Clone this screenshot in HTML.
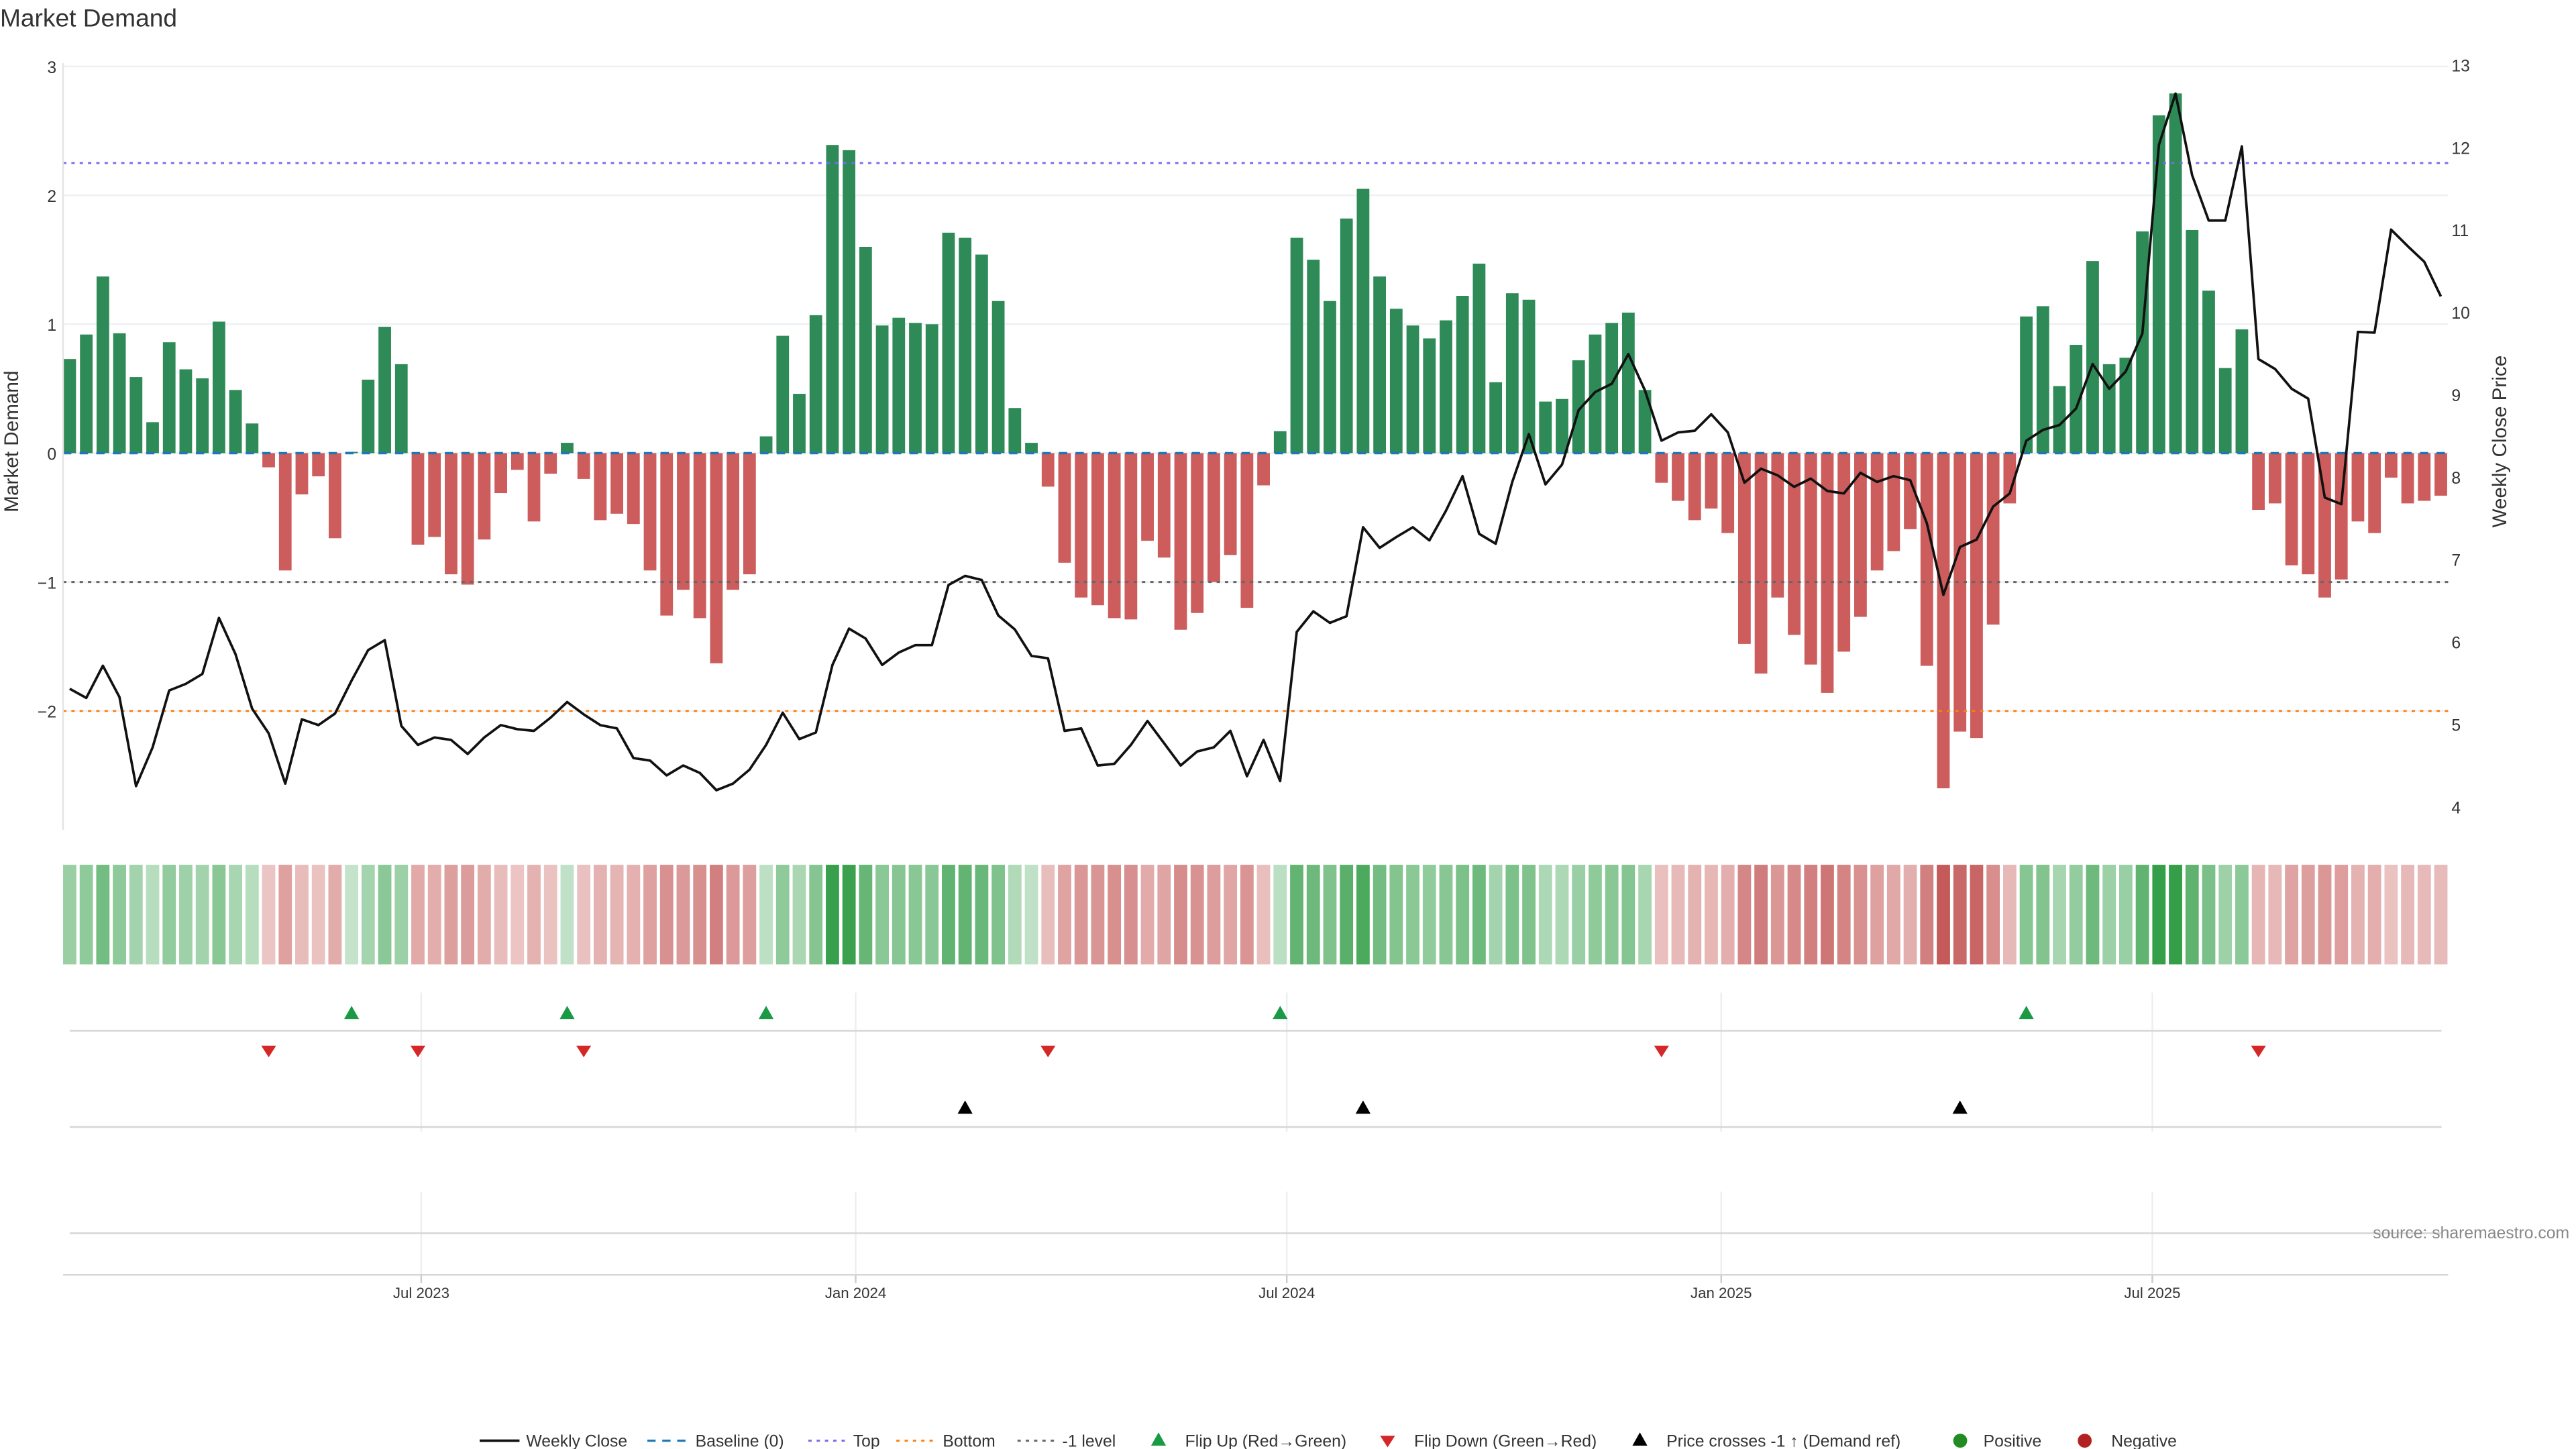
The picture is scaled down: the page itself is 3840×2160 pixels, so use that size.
<!DOCTYPE html>
<html><head><meta charset="utf-8"><style>
html,body{margin:0;padding:0;background:#fff;}
svg{display:block;font-family:"Liberation Sans","DejaVu Sans",sans-serif;}
</style></head><body>
<svg id="chart" width="3840" height="2160" viewBox="0 0 1552 873" xmlns="http://www.w3.org/2000/svg">
<text x="0" y="16" font-size="15" fill="#333">Market Demand</text>
<g id="grid"></g>
<g id="bars"></g>
<g id="refs"></g>
<g id="line"></g>
<g id="heat"></g>
<g id="events"></g>
<g id="axes"></g>
<text transform="translate(11,266) rotate(-90)" text-anchor="middle" font-size="12" fill="#333">Market Demand</text>
<text transform="translate(1510,266) rotate(-90)" text-anchor="middle" font-size="12" fill="#333">Weekly Close Price</text>
<text x="1548" y="746" text-anchor="end" font-size="10" fill="#888">source: sharemaestro.com</text>
<g id="legend"></g>
</svg>
<script>
const demand = [0.73,0.92,1.37,0.93,0.59,0.24,0.86,0.65,0.58,1.02,0.49,0.23,-0.11,-0.91,-0.32,-0.18,-0.66,0.01,0.57,0.98,0.69,-0.71,-0.65,-0.94,-1.02,-0.67,-0.31,-0.13,-0.53,-0.16,0.08,-0.2,-0.52,-0.47,-0.55,-0.91,-1.26,-1.06,-1.28,-1.63,-1.06,-0.94,0.13,0.91,0.46,1.07,2.39,2.35,1.6,0.99,1.05,1.01,1.0,1.71,1.67,1.54,1.18,0.35,0.08,-0.26,-0.85,-1.12,-1.18,-1.28,-1.29,-0.68,-0.81,-1.37,-1.24,-1.0,-0.79,-1.2,-0.25,0.17,1.67,1.5,1.18,1.82,2.05,1.37,1.12,0.99,0.89,1.03,1.22,1.47,0.55,1.24,1.19,0.4,0.42,0.72,0.92,1.01,1.09,0.49,-0.23,-0.37,-0.52,-0.43,-0.62,-1.48,-1.71,-1.12,-1.41,-1.64,-1.86,-1.54,-1.27,-0.91,-0.76,-0.59,-1.65,-2.6,-2.16,-2.21,-1.33,-0.39,1.06,1.14,0.52,0.84,1.49,0.69,0.74,1.72,2.62,2.79,1.73,1.26,0.66,0.96,-0.44,-0.39,-0.87,-0.94,-1.12,-0.98,-0.53,-0.62,-0.19,-0.39,-0.37,-0.33];
const closePrice = [5.43,5.32,5.71,5.33,4.25,4.72,5.41,5.49,5.61,6.29,5.85,5.19,4.89,4.28,5.06,4.99,5.13,5.53,5.9,6.02,4.98,4.75,4.84,4.81,4.64,4.84,4.99,4.94,4.92,5.08,5.27,5.12,4.99,4.95,4.59,4.56,4.38,4.5,4.41,4.2,4.28,4.45,4.75,5.14,4.82,4.9,5.72,6.16,6.04,5.72,5.87,5.96,5.96,6.69,6.8,6.75,6.32,6.15,5.83,5.8,4.92,4.95,4.5,4.52,4.75,5.04,4.77,4.5,4.67,4.72,4.92,4.37,4.81,4.31,6.12,6.37,6.23,6.31,7.39,7.14,7.27,7.39,7.23,7.59,8.01,7.31,7.19,7.94,8.52,7.91,8.15,8.81,9.03,9.13,9.49,9.05,8.44,8.54,8.56,8.76,8.54,7.93,8.1,8.02,7.88,7.98,7.83,7.8,8.05,7.94,8.01,7.96,7.44,6.57,7.15,7.24,7.64,7.8,8.44,8.57,8.63,8.83,9.37,9.07,9.28,9.74,12.03,12.65,11.66,11.11,11.11,12.01,9.43,9.31,9.07,8.95,7.75,7.67,9.76,9.75,11.0,10.8,10.61,10.19];
const priceCrossIdx = [54, 78, 114];
const leftTicks = [3,2,1,0,-1,-2];
const rightTicks = [13,12,11,10,9,8,7,6,5,4];
const xTickLabels = ["Jul 2023","Jan 2024","Jul 2024","Jan 2025","Jul 2025"];
const xTickWeeks = [21.2,47.4,73.4,99.6,125.6];
const refLevels = {top:2.25, minus1:-1, bottom:-2};

const NS="http://www.w3.org/2000/svg";
function mk(tag,attrs,parent){const e=document.createElementNS(NS,tag);for(const k in attrs)e.setAttribute(k,attrs[k]);parent.appendChild(e);return e;}
const X0=42, DX=9.99, L=38, R=1475;
const xs = i => X0 + i*DX;
const yD = v => 273 - v*77.67;
const yP = p => 39 + (13-p)*49.67;

const grid=document.getElementById('grid');
leftTicks.forEach(t=>{
  const l=mk('line',{x1:L,x2:R,y1:yD(t),y2:yD(t),stroke:'#eef0f4','stroke-width':1},grid);
  
  
});
const axes=document.getElementById('axes');
const al=mk('line',{x1:L,x2:L,y1:38,y2:500,stroke:'#e4e4e4','stroke-width':1},axes);


leftTicks.forEach(t=>{
  const tx=mk('text',{x:34,y:yD(t)+4,'text-anchor':'end','font-size':10,fill:'#333'},axes);
  tx.textContent = t<0 ? '\u2212'+Math.abs(t) : String(t);
  
  
});
rightTicks.forEach(t=>{
  const tx=mk('text',{x:1477,y:yP(t)+4,'font-size':10,fill:'#333'},axes);
  tx.textContent=String(t);
  
  
});

const bars=document.getElementById('bars');
demand.forEach((v,i)=>{
  const y0=yD(0), y1=yD(v);
  const r=mk('rect',{x:xs(i)-3.8,width:7.6,y:Math.min(y0,y1),height:Math.max(0.4,Math.abs(y1-y0)),fill:v>=0?'#2e8b57':'#cd5c5c'},bars);
  
  
});

const refs=document.getElementById('refs');
[[0,'#1f77b4','5,5',1.4,'baseline-zero'],[refLevels.top,'#7b68ee','2,3',1.2,'top-level'],[refLevels.minus1,'#666','2,3',1.2,'minus-one-level'],[refLevels.bottom,'#ff7f0e','2,3',1.2,'bottom-level']].forEach(a=>{
  const l=mk('line',{x1:L,x2:R,y1:yD(a[0]),y2:yD(a[0]),stroke:a[1],'stroke-dasharray':a[2],'stroke-width':a[3]},refs);
  
  
});

const lineG=document.getElementById('line');
const pl=mk('polyline',{points:closePrice.map((p,i)=>xs(i)+','+yP(p)).join(' '),fill:'none',stroke:'#111','stroke-width':1.5,'stroke-linejoin':'round'},lineG);



const heat=document.getElementById('heat');
function mix(a,b,t){return 'rgb('+a.map((c,k)=>Math.round(c+(b[k]-c)*t)).join(',')+')';}
demand.forEach((v,i)=>{
  const t=Math.min(1,0.15+Math.abs(v)/2.9);
  const col = v>=0 ? mix([222,240,226],[52,158,72],t) : mix([244,222,220],[196,90,90],t);
  const r=mk('rect',{x:xs(i)-4,width:8,y:521,height:60,fill:col},heat);
  
  
});

const ev=document.getElementById('events');
xTickWeeks.forEach((w,k)=>{
  const x=xs(w);
  [[598,682],[718,768]].forEach(s=>{
    const g=mk('line',{x1:x,x2:x,y1:s[0],y2:s[1],stroke:'#eceef2','stroke-width':1},ev);
    
    
  });
  const tk=mk('line',{x1:x,x2:x,y1:768,y2:773,stroke:'#ccc','stroke-width':1},ev);
  
  
  const tl=mk('text',{x:x,y:782,'text-anchor':'middle','font-size':9,fill:'#333'},ev);
  tl.textContent=xTickLabels[k];
  
  
});
[[621,42],[679,42],[743,42],[768,38]].forEach(a=>{
  const l=mk('line',{x1:a[1],x2:a===null?0:(a[0]===768?R:1471),y1:a[0],y2:a[0],stroke:'#d6d6d6','stroke-width':1},ev);
  
  
});
for(let i=1;i<demand.length;i++){
  const a=demand[i-1],b=demand[i],x=xs(i);
  if(a<0&&b>=0){
    const p=mk('polygon',{points:`${x-4.5},614 ${x+4.5},614 ${x},606`,fill:'#1a9a45'},ev);
    
    
  } else if(a>=0&&b<0){
    const p=mk('polygon',{points:`${x-4.5},630 ${x+4.5},630 ${x},637`,fill:'#d62728'},ev);
    
    
  }
}
priceCrossIdx.forEach(i=>{
  const x=xs(i);
  const p=mk('polygon',{points:`${x-4.5},671 ${x+4.5},671 ${x},663`,fill:'#000'},ev);
  
  
});

const lg=document.getElementById('legend');
const Y=868;
function ltext(x,s){const t=mk('text',{x:x,y:Y+3.5,'font-size':10,fill:'#333'},lg);t.textContent=s;}
function lline(x,c,d,w){const l=mk('line',{x1:x,x2:x+24,y1:Y,y2:Y,stroke:c,'stroke-width':w,'stroke-dasharray':d},lg);}
lline(289,'#111','none',1.5);ltext(317,'Weekly Close');
lline(390,'#1f77b4','5,4',1.3);ltext(419,'Baseline (0)');
lline(487,'#7b68ee','2,3',1.2);ltext(514,'Top');
lline(540,'#ff7f0e','2,3',1.2);ltext(568,'Bottom');
lline(613,'#666','2,3',1.2);ltext(640,'-1 level');
function ltri(x,c,up){const p=mk('polygon',{points:up?`${x-4.5},${Y+3} ${x+4.5},${Y+3} ${x},${Y-5}`:`${x-4.5},${Y-3} ${x+4.5},${Y-3} ${x},${Y+4}`,fill:c},lg);}
ltri(698,'#1a9a45',true);ltext(714,'Flip Up (Red\u2192Green)');
ltri(836,'#d62728',false);ltext(852,'Flip Down (Green\u2192Red)');
ltri(988,'#000',true);ltext(1004,'Price crosses -1 \u2191 (Demand ref)');
function lcirc(x,c){const e=mk('circle',{cx:x,cy:Y,r:4.2,fill:c},lg);}
lcirc(1181,'#228b22');ltext(1195,'Positive');
lcirc(1256,'#b22222');ltext(1272,'Negative');
</script>
</body></html>
